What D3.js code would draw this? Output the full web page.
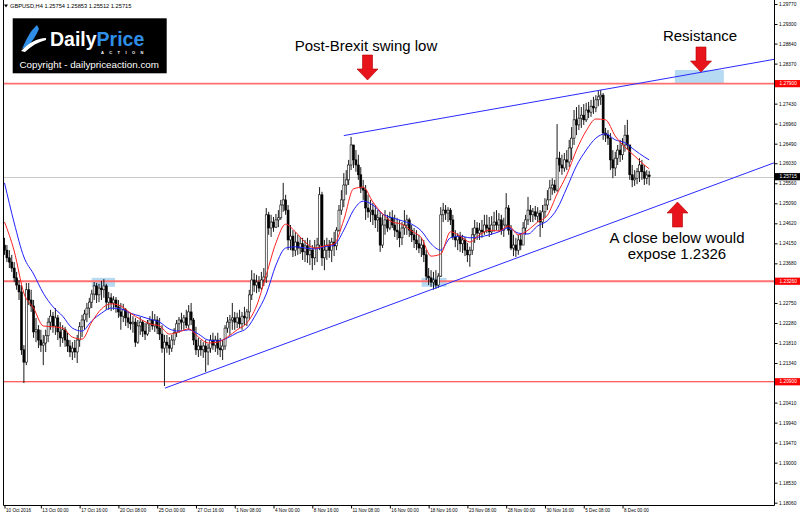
<!DOCTYPE html>
<html>
<head>
<meta charset="utf-8">
<script src="https://cdn.jsdelivr.net/npm/d3@7"></script>
<style>
  body { margin: 0; background: #fff; }
  svg { display: block; font-family: "Liberation Sans", Arial, sans-serif; }
</style>
</head>
<body>
<div id="chart-container"></div>
<script>
// GBPUSD H4, one value per candle (open = previous close)
const firstOpen = 1.2411;
const highs = [
  1.2428, 1.2411, 1.2399, 1.2388, 1.2371, 1.2348, 1.2329, 1.2317, 1.2176, 1.2322,
  1.2322, 1.2306, 1.2282, 1.2240, 1.2223, 1.2212, 1.2200, 1.2212, 1.2240, 1.2259,
  1.2254, 1.2263, 1.2247, 1.2230, 1.2223, 1.2219, 1.2205, 1.2188, 1.2183, 1.2188,
  1.2200, 1.2230, 1.2247, 1.2259, 1.2275, 1.2287, 1.2306, 1.2324, 1.2322, 1.2320,
  1.2327, 1.2331, 1.2320, 1.2301, 1.2298, 1.2291, 1.2289, 1.2282, 1.2275, 1.2273,
  1.2263, 1.2254, 1.2252, 1.2244, 1.2240, 1.2235, 1.2242, 1.2235, 1.2228, 1.2235,
  1.2244, 1.2256, 1.2249, 1.2244, 1.2240, 1.2223, 1.2200, 1.2200, 1.2195, 1.2200,
  1.2216, 1.2235, 1.2242, 1.2252, 1.2247, 1.2259, 1.2270, 1.2275, 1.2240, 1.2219,
  1.2193, 1.2188, 1.2183, 1.2188, 1.2179, 1.2200, 1.2205, 1.2198, 1.2205, 1.2193,
  1.2188, 1.2223, 1.2242, 1.2247, 1.2275, 1.2254, 1.2252, 1.2259, 1.2254, 1.2266,
  1.2261, 1.2306, 1.2352, 1.2345, 1.2341, 1.2338, 1.2348, 1.2357, 1.2498, 1.2489,
  1.2482, 1.2477, 1.2484, 1.2493, 1.2517, 1.2557, 1.2529, 1.2505, 1.2458, 1.2446,
  1.2442, 1.2435, 1.2430, 1.2428, 1.2423, 1.2428, 1.2423, 1.2411, 1.2423, 1.2428,
  1.2547, 1.2536, 1.2423, 1.2428, 1.2423, 1.2428, 1.2442, 1.2453, 1.2505, 1.2540,
  1.2580, 1.2587, 1.2611, 1.2665, 1.2646, 1.2634, 1.2623, 1.2594, 1.2564, 1.2552,
  1.2529, 1.2517, 1.2510, 1.2505, 1.2493, 1.2489, 1.2482, 1.2493, 1.2482, 1.2489,
  1.2493, 1.2482, 1.2475, 1.2470, 1.2465, 1.2493, 1.2482, 1.2475, 1.2458, 1.2451,
  1.2446, 1.2435, 1.2428, 1.2423, 1.2399, 1.2357, 1.2352, 1.2348, 1.2352, 1.2345,
  1.2500, 1.2510, 1.2505, 1.2500, 1.2498, 1.2482, 1.2446, 1.2439, 1.2442, 1.2435,
  1.2430, 1.2416, 1.2407, 1.2451, 1.2470, 1.2465, 1.2463, 1.2470, 1.2482, 1.2482,
  1.2477, 1.2479, 1.2489, 1.2493, 1.2486, 1.2482, 1.2475, 1.2533, 1.2505, 1.2458,
  1.2435, 1.2428, 1.2435, 1.2439, 1.2465, 1.2482, 1.2524, 1.2505, 1.2498, 1.2503,
  1.2500, 1.2493, 1.2505, 1.2521, 1.2540, 1.2564, 1.2568, 1.2564, 1.2695, 1.2630,
  1.2623, 1.2627, 1.2634, 1.2658, 1.2688, 1.2728, 1.2735, 1.2740, 1.2735, 1.2742,
  1.2745, 1.2747, 1.2752, 1.2759, 1.2763, 1.2773, 1.2775, 1.2768, 1.2686, 1.2681,
  1.2674, 1.2634, 1.2630, 1.2646, 1.2658, 1.2662, 1.2693, 1.2705, 1.2646, 1.2599,
  1.2587, 1.2592, 1.2615, 1.2611, 1.2599, 1.2587, 1.25853
];
const lows = [
  1.2388, 1.2371, 1.2357, 1.2348, 1.2324, 1.2306, 1.2282, 1.2153, 1.2087, 1.2129,
  1.2270, 1.2254, 1.2193, 1.2183, 1.2169, 1.2160, 1.2129, 1.2160, 1.2183, 1.2212,
  1.2205, 1.2200, 1.2188, 1.2172, 1.2181, 1.2172, 1.2160, 1.2148, 1.2141, 1.2146,
  1.2134, 1.2172, 1.2195, 1.2212, 1.2230, 1.2240, 1.2263, 1.2282, 1.2275, 1.2277,
  1.2282, 1.2287, 1.2259, 1.2259, 1.2256, 1.2259, 1.2252, 1.2240, 1.2212, 1.2230,
  1.2221, 1.2216, 1.2212, 1.2205, 1.2172, 1.2179, 1.2200, 1.2195, 1.2188, 1.2198,
  1.2207, 1.2212, 1.2207, 1.2202, 1.2188, 1.2158, 1.2080, 1.2158, 1.2153, 1.2160,
  1.2176, 1.2195, 1.2205, 1.2212, 1.2212, 1.2216, 1.2212, 1.2223, 1.2176, 1.2153,
  1.2148, 1.2151, 1.2146, 1.2113, 1.2129, 1.2158, 1.2165, 1.2160, 1.2153, 1.2148,
  1.2141, 1.2165, 1.2205, 1.2200, 1.2212, 1.2212, 1.2216, 1.2216, 1.2212, 1.2223,
  1.2221, 1.2235, 1.2282, 1.2301, 1.2298, 1.2301, 1.2306, 1.2315, 1.2322, 1.2435,
  1.2430, 1.2442, 1.2451, 1.2453, 1.2470, 1.2489, 1.2482, 1.2399, 1.2399, 1.2383,
  1.2385, 1.2388, 1.2390, 1.2376, 1.2371, 1.2369, 1.2364, 1.2352, 1.2364, 1.2371,
  1.2399, 1.2362, 1.2352, 1.2376, 1.2381, 1.2371, 1.2385, 1.2399, 1.2442, 1.2482,
  1.2500, 1.2529, 1.2552, 1.2587, 1.2592, 1.2583, 1.2564, 1.2533, 1.2517, 1.2470,
  1.2475, 1.2465, 1.2458, 1.2451, 1.2442, 1.2395, 1.2404, 1.2435, 1.2442, 1.2446,
  1.2451, 1.2430, 1.2423, 1.2406, 1.2411, 1.2435, 1.2435, 1.2430, 1.2418, 1.2404,
  1.2399, 1.2392, 1.2383, 1.2371, 1.2329, 1.2317, 1.2313, 1.2306, 1.2308, 1.2310,
  1.2336, 1.2465, 1.2470, 1.2465, 1.2458, 1.2423, 1.2406, 1.2399, 1.2395, 1.2392,
  1.2385, 1.2371, 1.2360, 1.2388, 1.2416, 1.2423, 1.2423, 1.2428, 1.2435, 1.2439,
  1.2430, 1.2435, 1.2442, 1.2446, 1.2442, 1.2435, 1.2430, 1.2451, 1.2435, 1.2399,
  1.2385, 1.2383, 1.2388, 1.2399, 1.2411, 1.2435, 1.2458, 1.2465, 1.2465, 1.2470,
  1.2465, 1.2430, 1.2451, 1.2475, 1.2493, 1.2517, 1.2529, 1.2533, 1.2536, 1.2583,
  1.2576, 1.2583, 1.2587, 1.2594, 1.2611, 1.2646, 1.2669, 1.2681, 1.2686, 1.2693,
  1.2700, 1.2709, 1.2712, 1.2719, 1.2723, 1.2737, 1.2740, 1.2658, 1.2653, 1.2646,
  1.2587, 1.2568, 1.2573, 1.2599, 1.2606, 1.2611, 1.2630, 1.2634, 1.2564, 1.2547,
  1.2550, 1.2554, 1.2559, 1.2564, 1.2552, 1.2554, 1.25512
];
const closes = [
  1.2399, 1.2381, 1.2371, 1.2357, 1.2334, 1.2317, 1.2301, 1.2165, 1.2136, 1.2306,
  1.2282, 1.2268, 1.2207, 1.2212, 1.2188, 1.2176, 1.2181, 1.2198, 1.2230, 1.2244,
  1.2221, 1.2240, 1.2207, 1.2193, 1.2212, 1.2188, 1.2174, 1.2160, 1.2169, 1.2160,
  1.2188, 1.2219, 1.2235, 1.2249, 1.2263, 1.2277, 1.2296, 1.2315, 1.2294, 1.2310,
  1.2306, 1.2315, 1.2277, 1.2287, 1.2275, 1.2282, 1.2266, 1.2254, 1.2244, 1.2259,
  1.2240, 1.2230, 1.2226, 1.2230, 1.2183, 1.2221, 1.2230, 1.2209, 1.2202, 1.2226,
  1.2235, 1.2221, 1.2235, 1.2216, 1.2202, 1.2169, 1.2183, 1.2176, 1.2169, 1.2188,
  1.2205, 1.2226, 1.2235, 1.2230, 1.2240, 1.2223, 1.2254, 1.2235, 1.2188, 1.2165,
  1.2174, 1.2165, 1.2174, 1.2160, 1.2169, 1.2188, 1.2176, 1.2188, 1.2169, 1.2165,
  1.2174, 1.2216, 1.2230, 1.2235, 1.2240, 1.2230, 1.2240, 1.2226, 1.2244, 1.2240,
  1.2254, 1.2294, 1.2329, 1.2317, 1.2324, 1.2310, 1.2329, 1.2336, 1.2482, 1.2451,
  1.2465, 1.2453, 1.2470, 1.2475, 1.2505, 1.2517, 1.2493, 1.2423, 1.2432, 1.2399,
  1.2418, 1.2404, 1.2414, 1.2395, 1.2409, 1.2388, 1.2399, 1.2381, 1.2404, 1.2411,
  1.2529, 1.2381, 1.2399, 1.2411, 1.2399, 1.2418, 1.2409, 1.2446, 1.2493, 1.2517,
  1.2552, 1.2564, 1.2599, 1.2646, 1.2611, 1.2599, 1.2576, 1.2545, 1.2540, 1.2498,
  1.2489, 1.2493, 1.2482, 1.2470, 1.2475, 1.2411, 1.2458, 1.2470, 1.2451, 1.2475,
  1.2458, 1.2446, 1.2442, 1.2428, 1.2451, 1.2458, 1.2470, 1.2446, 1.2435, 1.2423,
  1.2414, 1.2404, 1.2411, 1.2388, 1.2338, 1.2334, 1.2324, 1.2329, 1.2317, 1.2338,
  1.2482, 1.2493, 1.2486, 1.2493, 1.2470, 1.2430, 1.2423, 1.2432, 1.2414, 1.2423,
  1.2399, 1.2388, 1.2399, 1.2435, 1.2451, 1.2439, 1.2446, 1.2442, 1.2458, 1.2451,
  1.2442, 1.2458, 1.2465, 1.2458, 1.2470, 1.2446, 1.2458, 1.2498, 1.2446, 1.2404,
  1.2411, 1.2399, 1.2423, 1.2411, 1.2451, 1.2470, 1.2493, 1.2482, 1.2489, 1.2479,
  1.2486, 1.2465, 1.2489, 1.2505, 1.2517, 1.2545, 1.2552, 1.2540, 1.2615, 1.2599,
  1.2592, 1.2611, 1.2606, 1.2639, 1.2662, 1.2705, 1.2693, 1.2709, 1.2716, 1.2705,
  1.2728, 1.2723, 1.2737, 1.2733, 1.2752, 1.2759, 1.2763, 1.2674, 1.2669, 1.2662,
  1.2611, 1.2592, 1.2615, 1.2634, 1.2623, 1.2646, 1.2669, 1.2646, 1.2576, 1.2564,
  1.2568, 1.2583, 1.2599, 1.2583, 1.2568, 1.25754, 1.25715
];

// moving averages every 4 bars
const maBars = [
  0, 4, 8, 12, 16, 20, 24, 28, 32, 36, 40, 44, 48, 52, 56, 60, 64, 68, 72, 76,
  80, 84, 88, 92, 96, 100, 104, 108, 112, 116, 120, 124, 128, 132, 136, 140, 144, 148, 152, 156,
  160, 164, 168, 172, 176, 180, 184, 188, 192, 196, 200, 204, 208, 212, 216, 220, 224, 228, 232, 236,
  240, 244, 248, 252, 256, 260, 264, 266
];
const maFast = [
  1.2465, 1.2397, 1.2298, 1.2263, 1.2221, 1.2219, 1.2216, 1.2195, 1.2190, 1.2230,
  1.2261, 1.2273, 1.2268, 1.2251, 1.2237, 1.2226, 1.2221, 1.2202, 1.2207, 1.2214,
  1.2195, 1.2181, 1.2183, 1.2195, 1.2212, 1.2228, 1.2268, 1.2341, 1.2416, 1.2460,
  1.2442, 1.2418, 1.2404, 1.2409, 1.2414, 1.2470, 1.2543, 1.2547, 1.2512, 1.2484,
  1.2465, 1.2460, 1.2444, 1.2428, 1.2385, 1.2390, 1.2442, 1.2432, 1.2418, 1.2435,
  1.2446, 1.2444, 1.2456, 1.2435, 1.2446, 1.2465, 1.2481, 1.2531, 1.2576, 1.2634,
  1.2679, 1.2707, 1.2705, 1.2667, 1.2641, 1.2620, 1.2599, 1.2590
];
const maSlow = [
  1.2557, 1.2463, 1.2383, 1.2343, 1.2298, 1.2266, 1.2244, 1.2216, 1.2209, 1.2233,
  1.2251, 1.2263, 1.2261, 1.2251, 1.2244, 1.2237, 1.2230, 1.2214, 1.2209, 1.2212,
  1.2202, 1.2188, 1.2186, 1.2193, 1.2205, 1.2216, 1.2251, 1.2296, 1.2364, 1.2404,
  1.2407, 1.2404, 1.2402, 1.2407, 1.2411, 1.2446, 1.2493, 1.2514, 1.2505, 1.2484,
  1.2475, 1.2468, 1.2460, 1.2444, 1.2414, 1.2399, 1.2428, 1.2432, 1.2428, 1.2430,
  1.2435, 1.2442, 1.2451, 1.2439, 1.2437, 1.2456, 1.2468, 1.2496, 1.2545, 1.2597,
  1.2634, 1.2662, 1.2672, 1.2658, 1.2651, 1.2634, 1.2618, 1.2611
];

// horizontal levels, trend lines and highlighted zones (bar index, price)
const levels = [1.2790, 1.2326, 1.2090];
const trendBars = [[140, 317.5], [66.2, 317.5]];
const trendPrices = [[1.2668, 1.2847], [1.2075, 1.2604]];
const zoneBars = [[36, 45.6], [172.1, 182.4], [276.6, 296.8]];
const zonePrices = [[1.2334, 1.2313], [1.2334, 1.2313], [1.2822, 1.2791]];

// axis ticks
const priceTicks = [
  1.2977, 1.2930, 1.2884, 1.2837, 1.2743, 1.2696, 1.2649, 1.2603, 1.2556, 1.2509,
  1.2462, 1.2415, 1.2368, 1.2275, 1.2228, 1.2181, 1.2134, 1.2041, 1.1994, 1.1947,
  1.1900, 1.1853, 1.1806
];
const timeTicks = [0, 15, 31, 47, 63, 79, 95, 111, 127, 143, 159, 175, 191, 207, 223, 239, 255];
const timeLabels = [
  "10 Oct 2016", "13 Oct 00:00", "17 Oct 16:00", "20 Oct 08:00", "25 Oct 00:00",
  "27 Oct 16:00", "1 Nov 08:00", "4 Nov 00:00", "8 Nov 16:00", "11 Nov 08:00",
  "16 Nov 00:00", "18 Nov 16:00", "23 Nov 08:00", "28 Nov 00:00", "30 Nov 16:00",
  "5 Dec 08:00", "8 Dec 00:00"
];

const width = 800, height = 518;
const plot = {left: 3, right: 774, top: 0, bottom: 505};

const x = d3.scaleLinear().domain([0, 317.5]).range([4.5, plot.right]);
const y = d3.scaleLinear().domain([1.1806, 1.2977]).range([502.7, 4]);
const fmt = d3.format(".5f");

const svg = d3.select("#chart-container")
  .append("svg")
    .attr("width", width)
    .attr("height", height);

svg.append("rect").attr("width", width).attr("height", height).attr("fill", "#fff");

svg.append("clipPath").attr("id", "plot-clip")
  .append("rect")
    .attr("x", plot.left).attr("y", plot.top)
    .attr("width", plot.right - plot.left).attr("height", plot.bottom - plot.top);

const chart = svg.append("g").attr("clip-path", "url(#plot-clip)");

// highlighted zones
chart.append("g").selectAll("rect")
  .data(zoneBars)
  .join("rect")
    .attr("x", d => x(d[0]))
    .attr("width", d => x(d[1]) - x(d[0]))
    .attr("y", (d, i) => y(zonePrices[i][0]))
    .attr("height", (d, i) => y(zonePrices[i][1]) - y(zonePrices[i][0]))
    .attr("fill", "#a9d3ee")
    .attr("opacity", 0.85);

// current price line
const last = closes[closes.length - 1];
chart.append("line")
  .attr("x1", plot.left).attr("x2", plot.right)
  .attr("y1", Math.round(y(last)) + 0.5).attr("y2", Math.round(y(last)) + 0.5)
  .attr("stroke", "#c8c8c8");

// horizontal levels
chart.append("g").selectAll("line")
  .data(levels)
  .join("line")
    .attr("x1", plot.left).attr("x2", plot.right)
    .attr("y1", d => y(d)).attr("y2", d => y(d))
    .attr("stroke", (d, i) => i === 2 ? "#ff2a2a" : "#ff6f6f")
    .attr("stroke-width", (d, i) => i === 2 ? 1.2 : 1.8);

// candles
const candles = highs.map((h, i) => {
  const o = i === 0 ? firstOpen : closes[i - 1];
  const c = closes[i];
  return {i, o, c, h: Math.max(h, o, c), l: Math.min(lows[i], o, c)};
});

const cg = chart.append("g");
cg.selectAll("line")
  .data(candles)
  .join("line")
    .attr("x1", d => x(d.i)).attr("x2", d => x(d.i))
    .attr("y1", d => y(d.h)).attr("y2", d => y(d.l))
    .attr("stroke", "#000")
    .attr("stroke-width", 0.9);

cg.selectAll("rect")
  .data(candles)
  .join("rect")
    .attr("x", d => x(d.i) - 1)
    .attr("width", 2)
    .attr("y", d => y(Math.max(d.o, d.c)))
    .attr("height", d => Math.max(0.8, Math.abs(y(d.o) - y(d.c))))
    .attr("fill", d => d.c >= d.o ? "#fff" : "#000")
    .attr("stroke", "#000")
    .attr("stroke-width", 0.6);

// moving averages
const maLine = values => d3.line()
  .x((d, k) => x(maBars[k]))
  .y(d => y(d))
  .curve(d3.curveMonotoneX)(values);

chart.append("path").attr("d", maLine(maSlow))
  .attr("fill", "none").attr("stroke", "#2020ff").attr("stroke-width", 1);
chart.append("path").attr("d", maLine(maFast))
  .attr("fill", "none").attr("stroke", "#ff2020").attr("stroke-width", 1);

// trend lines
chart.append("g").selectAll("line")
  .data(trendBars)
  .join("line")
    .attr("x1", d => x(d[0])).attr("x2", d => x(d[1]))
    .attr("y1", (d, i) => y(trendPrices[i][0])).attr("y2", (d, i) => y(trendPrices[i][1]))
    .attr("stroke", "#2a2aff")
    .attr("stroke-width", 1);

// frame
svg.append("path")
  .attr("d", `M${plot.left + 0.5},0 V${plot.bottom + 0.5} H${plot.right + 0.5} V0`)
  .attr("fill", "none")
  .attr("stroke", "#000");

// price axis
const yAxis = svg.append("g")
  .attr("transform", `translate(${plot.right + 0.5},0)`)
  .call(d3.axisRight(y).tickValues(priceTicks).tickSize(3).tickPadding(1.5).tickFormat(fmt));
yAxis.select(".domain").remove();
yAxis.selectAll("text")
  .style("font-size", "4.8px")
  .style("font-family", "Liberation Sans, Arial, sans-serif")
  .attr("fill", "#000");

// level and last price tags
const tags = levels.map(v => ({v, bg: "#ff0000"})).concat([{v: last, bg: "#000"}]);
const tag = svg.append("g").selectAll("g")
  .data(tags)
  .join("g")
    .attr("transform", d => `translate(${plot.right + 1},${y(d.v)})`);
tag.append("rect")
  .attr("x", 0).attr("y", -3.6).attr("width", 25).attr("height", 7.2)
  .attr("fill", d => d.bg);
tag.append("text")
  .attr("x", 4.5).attr("y", 1.7)
  .attr("fill", "#fff")
  .style("font-size", "4.8px")
  .text(d => fmt(d.v));

// time axis
const xAxis = svg.append("g")
  .attr("transform", `translate(0,${plot.bottom + 0.5})`)
  .call(d3.axisBottom(x).tickValues(timeTicks).tickSize(3).tickFormat((d, i) => timeLabels[i]));
xAxis.select(".domain").remove();
xAxis.selectAll("text")
  .attr("text-anchor", "start")
  .attr("dx", "1")
  .attr("y", 3)
  .style("font-size", "4.6px")
  .style("font-family", "Liberation Sans, Arial, sans-serif")
  .attr("fill", "#000");

// header
const lastBar = candles[candles.length - 1];
svg.append("path").attr("d", "M4,4.5 L8,4.5 L6,7.5 Z").attr("fill", "#000");
svg.append("text")
  .attr("x", 10).attr("y", 8)
  .style("font-size", "5.7px")
  .attr("fill", "#000")
  .text(`GBPUSD,H4  ${fmt(lastBar.o)} ${fmt(lastBar.h)} ${fmt(lastBar.l)} ${fmt(lastBar.c)}`);

// logo
const logo = svg.append("g");
logo.append("rect").attr("x", 12.7).attr("y", 18.3).attr("width", 154).attr("height", 55).attr("fill", "#000");
logo.append("path")
  .attr("d", "M22,49 C26,40 30,31 37,25 L39,29 C36,36 32,42 27,47 Z")
  .attr("fill", "#2f8fe8");
logo.append("path")
  .attr("d", "M21,51 C29,43 37,38 46,38 L46,40 C38,42 31,46 25,52 Z")
  .attr("fill", "#fff");
const brand = logo.append("text")
  .attr("x", 50).attr("y", 46)
  .style("font-size", "19.5px")
  .style("font-weight", "bold");
brand.append("tspan").attr("fill", "#fff").text("Daily");
brand.append("tspan").attr("fill", "#2f8fe8").text("Price");
logo.append("text")
  .attr("x", 101).attr("y", 54.4)
  .style("font-size", "4px")
  .style("font-weight", "bold")
  .style("letter-spacing", "5.4px")
  .attr("fill", "#fff")
  .text("ACTION");
logo.append("text")
  .attr("x", 19.5).attr("y", 67.5)
  .style("font-size", "9.8px")
  .attr("fill", "#fff")
  .text("Copyright - dailypriceaction.com");

// annotations
const notes = [
  {text: "Post-Brexit swing low", x: 366, y: 51},
  {text: "Resistance", x: 700, y: 41},
  {text: "A close below would", x: 677, y: 243},
  {text: "expose 1.2326", x: 677, y: 259}
];
svg.append("g").selectAll("text")
  .data(notes)
  .join("text")
    .attr("x", d => d.x).attr("y", d => d.y)
    .attr("text-anchor", "middle")
    .style("font-size", "15px")
    .attr("fill", "#000")
    .text(d => d.text);

// red block arrows (tip position, direction)
const arrows = [
  {x: 367.5, y: 80, dir: 1},
  {x: 701, y: 72, dir: 1},
  {x: 677.5, y: 202, dir: -1}
];
svg.append("g").selectAll("path")
  .data(arrows)
  .join("path")
    .attr("transform", d => `translate(${d.x},${d.y}) scale(1,${d.dir})`)
    .attr("d", "M0,0 L-10.5,-11 L-5,-11 L-5,-25 L5,-25 L5,-11 L10.5,-11 Z")
    .attr("fill", "#e8141b")
    .attr("stroke", "#b00000")
    .attr("stroke-width", 0.6);
</script>
</body>
</html>
